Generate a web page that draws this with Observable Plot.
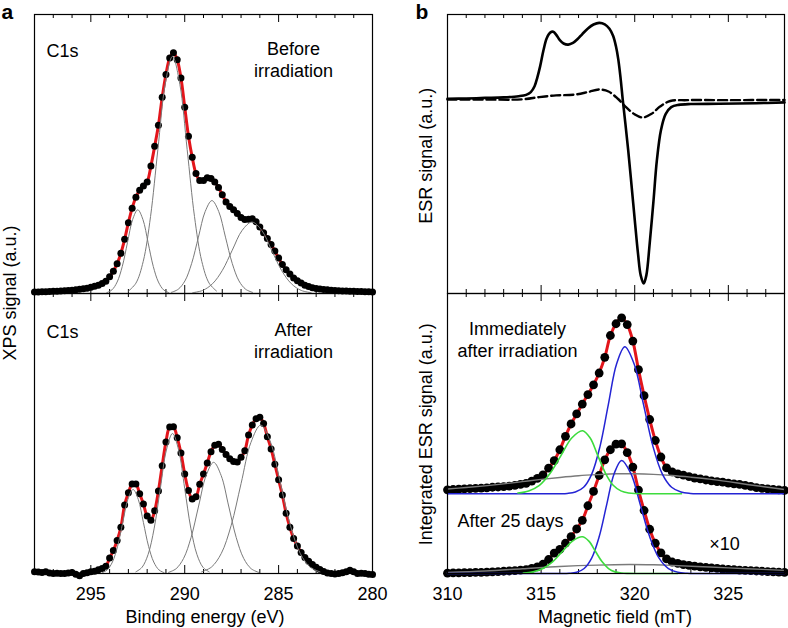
<!DOCTYPE html>
<html><head><meta charset="utf-8">
<script src="https://cdn.jsdelivr.net/npm/d3@7"></script>
<script src="https://cdn.jsdelivr.net/npm/@observablehq/plot@0.6"></script>
<style>
body{margin:0;background:#fff;}
#wrap{position:relative;width:788px;height:628px;overflow:hidden;font-family:"Liberation Sans",Arial,Helvetica,sans-serif;}
</style></head><body><div id="wrap"></div>
<script>
// ---------- XPS (panel a) ----------
const xpsEnergy = [298.0,297.8,297.6,297.4,297.2,297.0,296.8,296.6,296.4,296.2,296.0,295.8,295.6,295.4,295.2,295.0,294.8,294.6,294.4,294.2,294.0,293.8,293.6,293.4,293.2,293.0,292.8,292.6,292.4,292.2,292.0,291.8,291.6,291.4,291.2,291.0,290.8,290.6,290.4,290.2,290.0,289.8,289.6,289.4,289.2,289.0,288.8,288.6,288.4,288.2,288.0,287.8,287.6,287.4,287.2,287.0,286.8,286.6,286.4,286.2,286.0,285.8,285.6,285.4,285.2,285.0,284.8,284.6,284.4,284.2,284.0,283.8,283.6,283.4,283.2,283.0,282.8,282.6,282.4,282.2,282.0,281.8,281.6,281.4,281.2,281.0,280.8,280.6,280.4,280.2,280.0];
const xpsBefore = [0.5,0.5,0.6,0.6,0.7,0.8,0.8,0.9,1.0,1.1,1.2,1.3,1.5,1.7,1.9,2.2,2.6,3.0,3.6,4.4,6.0,8.0,10.7,14.4,19.4,25.4,30.6,34.5,37.0,38.5,40.0,45.7,52.8,60.3,70.3,78.5,84.4,86.3,83.8,77.2,66.8,56.4,48.8,43.0,40.5,40.5,41.5,41.2,40.0,38.0,35.4,32.8,31.2,30.0,28.7,27.2,26.5,26.6,26.8,25.7,23.8,21.8,19.7,17.6,15.2,12.7,10.4,8.5,7.0,5.6,4.6,3.8,3.0,2.5,2.1,1.8,1.6,1.4,1.3,1.2,1.1,1.0,0.9,0.9,0.8,0.8,0.7,0.7,0.6,0.6,0.5];
const xpsAfter = [0.6,0.5,0.4,0.6,0.2,0.0,0.1,0.0,0.0,0.2,0.4,-0.3,-0.8,0.0,0.3,0.6,0.8,1.3,1.8,2.6,5.5,8.2,11.8,16.5,24.5,28.8,32.0,32.0,28.5,24.8,20.5,19.0,22.4,29.5,38.5,47.0,52.3,52.4,48.5,43.0,35.5,29.6,26.6,27.4,31.9,35.5,39.5,43.5,45.8,46.2,44.3,42.5,41.0,40.0,39.8,41.5,43.8,49.5,53.0,55.3,55.8,53.6,48.8,44.5,39.0,33.5,28.0,21.5,16.5,12.5,9.8,7.5,5.7,4.4,3.2,2.2,1.4,0.7,0.2,0.0,-0.2,0.0,0.3,0.6,1.2,0.6,0.0,0.1,0.0,-0.3,-0.4];
const beforeCompA = [[294.15,0.3],[293.875,1.3],[293.6,4.1],[293.325,9.7],[293.05,18.2],[292.775,26.5],[292.5,30],[292.225,26.5],[291.95,18.2],[291.675,9.7],[291.4,4.1],[291.125,1.3],[290.85,0.3]];
const beforeCompB = [[292.99,0.9],[292.6,3.7],[292.21,11.5],[291.82,27.6],[291.43,51.6],[291.04,75],[290.65,85],[290.26,75],[289.87,51.6],[289.48,27.6],[289.09,11.5],[288.7,3.7],[288.31,0.9]];
const beforeCompC = [[290.71,0.4],[290.35,1.5],[289.99,4.5],[289.63,10.8],[289.27,20.2],[288.91,29.4],[288.55,33.3],[288.19,29.4],[287.83,20.2],[287.47,10.8],[287.11,4.5],[286.75,1.5],[286.39,0.4]];
const beforeCompD = [[289.57,0.3],[289.045,1.1],[288.52,3.5],[287.995,8.3],[287.47,15.5],[286.945,22.6],[286.42,25.6],[285.895,22.6],[285.37,15.5],[284.845,8.3],[284.32,3.5],[283.795,1.1],[283.27,0.3]];
const afterCompA = [[294.4,0.3],[294.125,1.3],[293.85,4.1],[293.575,9.7],[293.3,18.2],[293.025,26.5],[292.75,30],[292.475,26.5],[292.2,18.2],[291.925,9.7],[291.65,4.1],[291.375,1.3],[291.1,0.3]];
const afterCompB = [[292.6,0.6],[292.275,2.2],[291.95,6.8],[291.625,16.2],[291.3,30.3],[290.975,44.1],[290.65,50],[290.325,44.1],[290.0,30.3],[289.675,16.2],[289.35,6.8],[289.025,2.2],[288.7,0.6]];
const afterCompC = [[290.86,0.4],[290.46,1.7],[290.06,5.4],[289.66,12.9],[289.26,24.1],[288.86,35],[288.46,39.7],[288.06,35],[287.66,24.1],[287.26,12.9],[286.86,5.4],[286.46,1.7],[286.06,0.4]];
const afterCompD = [[289.1,0.6],[288.575,2.3],[288.05,7.2],[287.525,17.2],[287.0,32.1],[286.475,46.8],[285.95,53],[285.425,46.8],[284.9,32.1],[284.375,17.2],[283.85,7.2],[283.325,2.3],[282.8,0.6]];
const xpsTickLabels = [295, 290, 285, 280];
const xpsMinorTicks = [297,296,294,293,292,291,289,288,287,286,284,283,282,281];
const xpsMajorTicks = [295, 290, 285];

// ---------- ESR (panel b) ----------
const esrSolid = [[310.0,69.8],[311.0,69.9],[312.0,70.1],[313.0,70.3],[313.8,70.7],[314.2,71.2],[314.45,72.2],[314.65,74.3],[314.8,77.5],[314.95,81.5],[315.12,87.0],[315.3,91.5],[315.5,93.6],[315.65,93.8],[315.8,92.8],[316.0,90.8],[316.2,89.6],[316.45,89.2],[316.7,89.8],[316.95,91.2],[317.2,93.0],[317.5,95.0],[317.8,96.4],[318.1,97.0],[318.4,96.5],[318.65,94.9],[318.85,92.3],[319.0,88.5],[319.12,84.0],[319.24,77.5],[319.36,69.5],[319.5,61.0],[319.65,51.5],[319.82,39.5],[320.0,26.5],[320.18,14.0],[320.32,6.5],[320.48,3.6],[320.62,6.5],[320.8,18.0],[321.0,33.0],[321.18,47.5],[321.4,58.5],[321.65,64.3],[321.95,66.8],[322.35,67.6],[323.0,67.9],[324.5,68.0],[326.5,68.2],[328.0,68.5]];
const esrDashed = [[310.0,69.5],[312.0,69.5],[314.0,69.6],[314.9,70.4],[315.8,71.0],[316.8,71.3],[317.5,72.2],[318.1,73.1],[318.6,72.4],[319.1,69.8],[319.5,67.0],[320.0,64.2],[320.42,63.1],[320.9,64.4],[321.35,67.0],[321.9,69.0],[322.8,69.3],[325.0,69.3],[328.0,69.4]];
const esrField = [310.0,310.3,310.6,310.9,311.2,311.5,311.8,312.1,312.4,312.7,313.0,313.3,313.6,313.9,314.2,314.5,314.8,315.1,315.4,315.7,316.0,316.3,316.6,316.9,317.2,317.5,317.8,318.1,318.4,318.7,319.0,319.3,319.6,319.9,320.2,320.5,320.8,321.1,321.4,321.7,322.0,322.3,322.6,322.9,323.2,323.5,323.8,324.1,324.4,324.7,325.0,325.3,325.6,325.9,326.2,326.5,326.8,327.1,327.4,327.7,328.0];
const intImmediate = [29.9,30.0,30.1,30.2,30.3,30.4,30.5,30.6,30.8,30.9,31.0,31.2,31.5,31.8,32.2,33.0,34.0,35.2,37.6,40.3,44.2,49.0,53.4,57.0,60.5,63.9,67.4,71.6,77.2,85.0,89.2,91.3,88.9,83.0,72.8,63.5,55.0,47.5,41.6,37.7,36.3,35.6,35.1,34.6,34.1,33.8,33.4,33.1,32.8,32.6,32.3,32.0,31.8,31.5,31.1,30.7,30.4,30.2,30.0,29.9,29.7];
const intAfter25 = [0.1,0.2,0.2,0.3,0.3,0.4,0.4,0.5,0.6,0.7,0.8,0.9,1.0,1.2,1.4,1.8,2.4,3.3,5.0,7.3,8.6,10.8,13.2,15.9,19.0,24.2,29.3,35.0,40.6,44.2,46.2,46.3,43.2,38.0,29.8,22.5,15.8,10.8,7.4,5.2,4.1,3.6,3.2,2.9,2.6,2.4,2.2,2.0,1.8,1.6,1.5,1.4,1.2,1.1,1.0,0.9,0.8,0.7,0.6,0.5,0.4];
const immGray = [[310,30.2],[311,30.7],[312,31.3],[313,32.0],[314,32.8],[315,33.6],[316,34.3],[317,34.9],[318,35.3],[319,35.6],[320,35.6],[321,35.4],[322,35.0],[323,34.4],[324,33.7],[325,32.8],[326,31.8],[327,30.9],[328,30.0]];
const immBlue = [[310,28.5],[316.0,28.5],[316.39,28.6],[316.83,29.1],[317.27,30.8],[317.71,35.6],[318.15,45.5],[318.59,60.3],[319.03,74.8],[319.47,81.0],[319.97,74.8],[320.47,60.3],[320.97,45.5],[321.47,35.6],[321.97,30.8],[322.47,29.1],[322.97,28.6],[323.5,28.5],[328,28.5]];
const immGreen = [[313.76,28.75],[314.335,29.5],[314.91,31.5],[315.485,35.8],[316.06,42.1],[316.635,48.4],[317.21,51.0],[317.62,48.4],[318.03,42.1],[318.44,35.8],[318.85,31.5],[319.26,29.5],[319.67,28.75],[320.08,28.55],[320.6,28.5],[322.5,28.5]];
const aftGray = [[310,0.4],[312,0.9],[314,1.7],[316,2.5],[318,3.0],[319.7,3.2],[321,3.1],[322,2.9],[324,2.3],[326,1.7],[328,1.1]];
const aftBlue = [[310,0],[316.0,0],[316.5,0.09],[316.9,0.45],[317.3,1.77],[317.7,5.47],[318.1,13.1],[318.5,24.5],[318.9,35.65],[319.3,40.4],[319.8,35.65],[320.3,24.5],[320.8,13.1],[321.3,5.47],[321.8,1.77],[322.3,0.45],[322.8,0.09],[323.3,0],[328,0]];
const aftGreen = [[314.05,0.15],[314.575,0.58],[315.1,1.77],[315.625,4.25],[316.15,7.95],[316.675,11.56],[317.2,13.1],[317.55,11.56],[317.9,7.95],[318.25,4.25],[318.6,1.77],[318.95,0.58],[319.3,0.15],[319.65,0.03],[320.2,0],[322.3,0]];
const esrTickLabels = [310, 315, 320, 325];
const esrMinorTicks = [311,312,313,314,316,317,318,319,321,322,323,324,326,327];
const esrMajorTicks = [315, 320, 325];

// ---------- drawing ----------
const FONT = '"Liberation Sans", Arial, Helvetica, sans-serif';
const RED = "#e3151b", GRAY = "#7a7a7a", BLUE = "#2424d4", GREEN = "#3ddc3d";
const wrap = document.getElementById("wrap");
function place(el, left, top, w) {
  const d = document.createElement("div");
  d.style.position = "absolute"; d.style.left = left + "px"; d.style.top = top + "px"; d.style.width = w + "px";
  d.appendChild(el); wrap.appendChild(d);
}
function edgeTicks(minor, major, H) {
  return [
    Plot.ruleX(minor, {insetTop: H - 4, stroke: "#000", strokeWidth: 1}),
    Plot.ruleX(minor, {insetBottom: H - 4, stroke: "#000", strokeWidth: 1}),
    Plot.ruleX(major, {insetTop: H - 8, stroke: "#000", strokeWidth: 1}),
    Plot.ruleX(major, {insetBottom: H - 8, stroke: "#000", strokeWidth: 1})
  ];
}
const styleObj = {fontFamily: FONT, background: "transparent", overflow: "visible", color: "#000"};
const pairLine = (arr, stroke, sw) => Plot.line(arr, {x: d => d[0], y: d => d[1], stroke, strokeWidth: sw, curve: "catmull-rom"});
const txt = (s, o) => Plot.text([s], Object.assign({fontSize: 18, fill: "#000", lineHeight: 1.17}, o));

const Ht = 279, Hb = 280;
// panel a top
place(Plot.plot({
  width: 358, height: 10 + Ht + 10, marginLeft: 10, marginRight: 10, marginTop: 10, marginBottom: 10,
  x: {domain: [298, 280], axis: null}, y: {domain: [0, 100], axis: null}, style: styleObj,
  marks: [
    ...edgeTicks(xpsMinorTicks, xpsMajorTicks, Ht),
    Plot.line(xpsBefore, {x: xpsEnergy, y: d => d, stroke: RED, strokeWidth: 3, curve: "catmull-rom"}),
    Plot.dot(xpsBefore, {x: xpsEnergy, y: d => d, r: 3.5, fill: "#000"}),
    pairLine(beforeCompA, GRAY, 1), pairLine(beforeCompB, GRAY, 1), pairLine(beforeCompC, GRAY, 1), pairLine(beforeCompD, GRAY, 1),
    Plot.frame({stroke: "#000", strokeWidth: 1.2}),
    txt("C1s", {frameAnchor: "top-left", textAnchor: "start", lineAnchor: "top", dx: 12, dy: 28}),
    txt("Before\nirradiation", {frameAnchor: "top-right", textAnchor: "middle", lineAnchor: "top", dx: -79, dy: 26})
  ]
}), 24, 4, 358);

// panel a bottom
place(Plot.plot({
  width: 358, height: 10 + Hb + 45, marginLeft: 10, marginRight: 10, marginTop: 10, marginBottom: 45,
  x: {domain: [298, 280]}, y: {domain: [0, 100], axis: null}, style: styleObj,
  marks: [
    ...edgeTicks(xpsMinorTicks, xpsMajorTicks, Hb),
    Plot.axisX({ticks: xpsTickLabels, tickSize: 0, tickPadding: 13.5, fontSize: 18, label: null, tickFormat: d => String(d)}),
    Plot.line(xpsAfter, {x: xpsEnergy, y: d => d, stroke: RED, strokeWidth: 3, curve: "catmull-rom"}),
    Plot.dot(xpsAfter, {x: xpsEnergy, y: d => d, r: 3.5, fill: "#000"}),
    pairLine(afterCompA, GRAY, 1), pairLine(afterCompB, GRAY, 1), pairLine(afterCompC, GRAY, 1), pairLine(afterCompD, GRAY, 1),
    Plot.frame({stroke: "#000", strokeWidth: 1.2}),
    txt("C1s", {frameAnchor: "top-left", textAnchor: "start", lineAnchor: "top", dx: 12, dy: 30}),
    txt("After\nirradiation", {frameAnchor: "top-right", textAnchor: "middle", lineAnchor: "top", dx: -79, dy: 28})
  ]
}), 24, 283, 358);

// panel b top
place(Plot.plot({
  width: 351, height: 10 + Ht + 10, marginLeft: 10, marginRight: 4, marginTop: 10, marginBottom: 10,
  x: {domain: [310, 328], axis: null}, y: {domain: [0, 100], axis: null}, style: styleObj,
  marks: [
    ...edgeTicks(esrMinorTicks, esrMajorTicks, Ht),
    Plot.line(esrDashed, {x: d => d[0], y: d => d[1], stroke: "#000", strokeWidth: 2.4, strokeDasharray: "9,4", curve: "catmull-rom"}),
    Plot.line(esrSolid, {x: d => d[0], y: d => d[1], stroke: "#000", strokeWidth: 2.6, curve: "catmull-rom"}),
    Plot.frame({stroke: "#000", strokeWidth: 1.2})
  ]
}), 437, 4, 351);

// panel b bottom
place(Plot.plot({
  width: 351, height: 10 + Hb + 45, marginLeft: 10, marginRight: 4, marginTop: 10, marginBottom: 45,
  x: {domain: [310, 328]}, y: {domain: [0, 100], axis: null}, style: styleObj,
  marks: [
    ...edgeTicks(esrMinorTicks, esrMajorTicks, Hb),
    Plot.axisX({ticks: esrTickLabels, tickSize: 0, tickPadding: 13.5, fontSize: 18, label: null, tickFormat: d => String(d)}),
    Plot.line(intImmediate, {x: esrField, y: d => d, stroke: RED, strokeWidth: 3, curve: "catmull-rom"}),
    Plot.line(intAfter25, {x: esrField, y: d => d, stroke: RED, strokeWidth: 3, curve: "catmull-rom"}),
    Plot.dot(intImmediate, {x: esrField, y: d => d, r: 4.4, fill: "#000"}),
    Plot.dot(intAfter25, {x: esrField, y: d => d, r: 4.4, fill: "#000"}),
    pairLine(immGray, GRAY, 1.4), pairLine(aftGray, GRAY, 1.4),
    pairLine(immBlue, BLUE, 1.5), pairLine(aftBlue, BLUE, 1.5),
    pairLine(immGreen, GREEN, 1.6), pairLine(aftGreen, GREEN, 1.6),
    Plot.frame({stroke: "#000", strokeWidth: 1.2}),
    txt("Immediately\nafter irradiation", {frameAnchor: "top-left", textAnchor: "middle", lineAnchor: "top", dx: 70, dy: 27}),
    txt("After 25 days", {frameAnchor: "top-left", textAnchor: "start", lineAnchor: "top", dx: 10, dy: 218.5}),
    txt("\u00d710", {frameAnchor: "top-right", textAnchor: "middle", lineAnchor: "top", dx: -60, dy: 241.5})
  ]
}), 437, 283, 351);

// global labels
const ov = d3.select(wrap).append("svg").attr("width", 788).attr("height", 628)
  .style("position", "absolute").style("left", "0px").style("top", "0px").style("pointer-events", "none")
  .style("font-family", FONT);
ov.append("text").attr("x", 1.5).attr("y", 19).attr("font-size", 21).attr("font-weight", "bold").text("a");
ov.append("text").attr("x", 415.5).attr("y", 18.5).attr("font-size", 21).attr("font-weight", "bold").text("b");
const rot = (x, y, s) => ov.append("text").attr("transform", `translate(${x},${y}) rotate(-90)`).attr("text-anchor", "middle").attr("font-size", 18).text(s);
rot(15.5, 293, "XPS signal (a.u.)");
rot(431.5, 155.8, "ESR signal (a.u.)");
rot(431.5, 434.2, "Integrated ESR signal (a.u.)");
ov.append("text").attr("x", 205).attr("y", 623).attr("text-anchor", "middle").attr("font-size", 18).text("Binding energy (eV)");
ov.append("text").attr("x", 615).attr("y", 623).attr("text-anchor", "middle").attr("font-size", 18).text("Magnetic field (mT)");
</script></body></html>
